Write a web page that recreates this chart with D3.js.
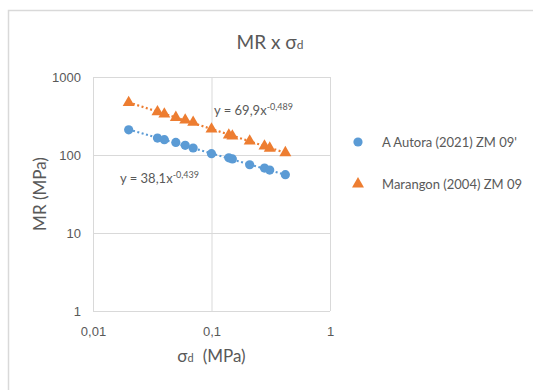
<!DOCTYPE html>
<html>
<head>
<meta charset="utf-8">
<script src="https://cdn.jsdelivr.net/npm/d3@7"></script>
<style>
  html, body { margin: 0; padding: 0; background: #fff; overflow: hidden; }
  svg { display: block; font-family: Lato, 'Open Sans', sans-serif; overflow: visible; }
  .tick text { fill: #595959; font-size: 13px; }
</style>
</head>
<body>
<script>
// stress (MPa) for each test stage
const sigmaD = [0.02, 0.035, 0.04, 0.05, 0.06, 0.07, 0.1, 0.14, 0.15, 0.21, 0.28, 0.31, 0.42];
// resilient modulus (MPa)
const autoraMR = [210, 165, 157, 145, 133, 123, 104, 92, 89, 75, 68, 64, 56];
const marangonMR = [470, 358, 335, 303, 280, 262, 215, 180, 175, 151, 130, 122, 107];
const seriesNames = ['A Autora (2021) ZM 09\'', 'Marangon (2004) ZM 09'];
const xTicks = [0.01, 0.1, 1];
const xTickLabels = ['0,01', '0,1', '1'];
const yTicks = [1, 10, 100, 1000];
// power trendline coefficients shown on the chart
const fitAutora = { a: 38.1, b: -0.439, label: '38,1', exp: '-0,439' };
const fitMarangon = { a: 69.9, b: -0.489, label: '69,9', exp: '-0,489' };

const width = 533, height = 390;
const margin = { top: 77, right: 203, bottom: 79, left: 93 };
const innerWidth = width - margin.left - margin.right;
const innerHeight = height - margin.top - margin.bottom;
const blue = '#5b9bd5', orange = '#ed7d31', grid = '#d9d9d9', text = '#595959';

const svg = d3.select('body').append('svg')
  .attr('width', width)
  .attr('height', height)
  .attr('viewBox', '0 0 ' + width + ' ' + height);

// chart frame
svg.append('path')
  .attr('d', 'M8.5,' + height + 'V10.5H' + width)
  .attr('fill', 'none')
  .attr('stroke', '#d9d9d9')
  .attr('stroke-width', 1.5);

const chart = svg.append('g')
  .attr('transform', 'translate(' + margin.left + ',' + margin.top + ')');

const x = d3.scaleLog().domain([0.01, 1]).range([0, innerWidth]);
const y = d3.scaleLog().domain([1, 1000]).range([innerHeight, 0]);

// gridlines
chart.append('g').selectAll('line').data(yTicks).join('line')
  .attr('x1', 0).attr('x2', innerWidth)
  .attr('y1', (d) => y(d) + 0.5).attr('y2', (d) => y(d) + 0.5)
  .attr('stroke', grid);
chart.append('g').selectAll('line').data(xTicks).join('line')
  .attr('y1', 0).attr('y2', innerHeight)
  .attr('x1', (d) => x(d) + 0.5).attr('x2', (d) => x(d) + 0.5)
  .attr('stroke', grid);

const xAxis = d3.axisBottom(x).tickValues(xTicks).tickSize(0).tickPadding(16)
  .tickFormat((d, i) => xTickLabels[i]);
const yAxis = d3.axisLeft(y).tickValues(yTicks).tickSize(0).tickPadding(12)
  .tickFormat(d3.format('d'));

chart.append('g')
  .attr('transform', 'translate(0,' + innerHeight + ')')
  .call(xAxis)
  .call((g) => g.select('.domain').remove());
chart.append('g')
  .call(yAxis)
  .call((g) => g.select('.domain').remove());

// trendlines
function trend(fit, color) {
  const xs = d3.extent(sigmaD);
  const pts = d3.range(0, 21).map((i) => {
    const v = Math.exp(Math.log(xs[0]) + (Math.log(xs[1]) - Math.log(xs[0])) * i / 20);
    return [v, fit.a * Math.pow(v, fit.b)];
  });
  chart.append('path')
    .datum(pts)
    .attr('d', d3.line().x((d) => x(d[0])).y((d) => y(d[1])))
    .attr('fill', 'none')
    .attr('stroke', color)
    .attr('stroke-width', 2.2)
    .attr('stroke-dasharray', '2,2.5');
}
trend(fitMarangon, orange);
trend(fitAutora, blue);

const autora = sigmaD.map((s, i) => [s, autoraMR[i]]);
const marangon = sigmaD.map((s, i) => [s, marangonMR[i]]);

chart.append('g').selectAll('circle').data(autora).join('circle')
  .attr('cx', (d) => x(d[0]))
  .attr('cy', (d) => y(d[1]))
  .attr('r', 4.6)
  .attr('fill', blue);

const tri = d3.symbol().type(d3.symbolTriangle).size(62);
chart.append('g').selectAll('path').data(marangon).join('path')
  .attr('transform', (d) => 'translate(' + x(d[0]) + ',' + y(d[1]) + ')')
  .attr('d', tri)
  .attr('fill', orange);

// equation labels
function equation(fit, px, py) {
  const t = svg.append('text')
    .attr('x', px).attr('y', py)
    .attr('fill', text)
    .attr('font-size', 13);
  t.append('tspan').text('y = ' + fit.label + 'x');
  t.append('tspan').attr('dy', -5).attr('font-size', 9).text(fit.exp);
}
equation(fitMarangon, 214, 115);
equation(fitAutora, 120, 183);

// title
const title = svg.append('text')
  .attr('x', 270).attr('y', 49)
  .attr('text-anchor', 'middle')
  .attr('fill', text)
  .attr('font-size', 19);
title.append('tspan').text('MR x σ');
title.append('tspan').attr('font-size', 12).text('d');

// axis titles
svg.append('text')
  .attr('transform', 'translate(46,' + (margin.top + innerHeight / 2) + ') rotate(-90)')
  .attr('text-anchor', 'middle')
  .attr('fill', text)
  .attr('font-size', 17)
  .text('MR (MPa)');

const xTitle = svg.append('text')
  .attr('x', margin.left + innerWidth / 2).attr('y', 362)
  .attr('text-anchor', 'middle')
  .attr('fill', text)
  .attr('font-size', 17);
xTitle.append('tspan').text('σ');
xTitle.append('tspan').attr('font-size', 11).text('d');
xTitle.append('tspan').attr('dx', 9).text('(MPa)');

// legend
const legend = svg.append('g').attr('transform', 'translate(358,142)');
legend.append('circle').attr('r', 4.6).attr('fill', blue);
legend.append('text').attr('x', 24).attr('y', 4.5)
  .attr('fill', text).attr('font-size', 13).text(seriesNames[0]);
legend.append('path').attr('transform', 'translate(0,42)').attr('d', tri).attr('fill', orange);
legend.append('text').attr('x', 24).attr('y', 46.5)
  .attr('fill', text).attr('font-size', 13).text(seriesNames[1]);
</script>
</body>
</html>
